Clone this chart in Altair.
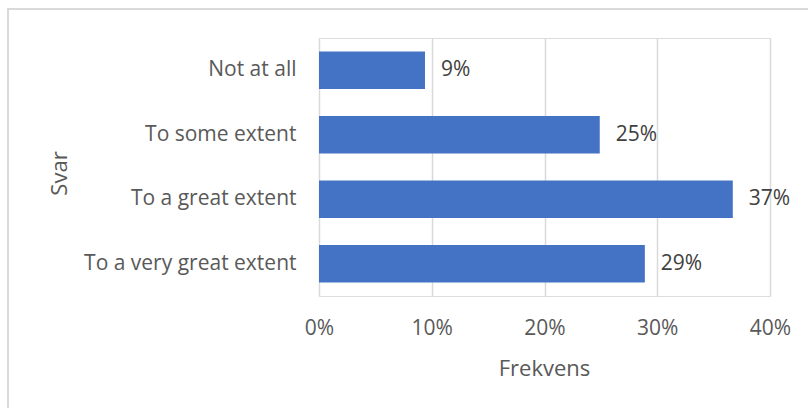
import altair as alt
import pandas as pd

categories = ["Not at all", "To some extent", "To a great extent", "To a very great extent"]
shares = [0.094, 0.249, 0.367, 0.289]
labels = ["9%", "25%", "37%", "29%"]

df = pd.DataFrame({"Svar": categories, "Frekvens": shares, "label": labels})

FONT = "Open Sans"
TXT = "#595959"
FS = 21

x_enc = alt.X(
    "Frekvens:Q",
    scale=alt.Scale(domain=[0, 0.4], nice=False, zero=True),
    axis=alt.Axis(
        title="Frekvens", format="%", values=[0, 0.1, 0.2, 0.3, 0.4],
        domain=False, ticks=False, grid=True, gridColor="#d9d9d9", gridWidth=1.5,
        labelFont=FONT, labelFontSize=FS, labelColor=TXT, labelPadding=32,
        labelBaseline="middle", labelFlush=False, labelOverlap=False,
        titleFont=FONT, titleFontSize=22, titleColor=TXT, titleFontWeight="normal",
        titleX=225, titleY=72, titleBaseline="middle", titleAlign="center",
    ),
)
y_enc = alt.Y(
    "Svar:N", sort=categories,
    scale=alt.Scale(paddingInner=0.42, paddingOuter=0.21),
    axis=alt.Axis(
        title="Svar", domain=False, ticks=False, grid=False,
        labelFont=FONT, labelFontSize=FS, labelColor=TXT, labelPadding=23,
        labelLimit=400,
        titleFont=FONT, titleFontSize=22, titleColor=TXT, titleFontWeight="normal",
        titleX=-260, titleY=135, titleAngle=-90, titleAlign="center",
        titleBaseline="middle",
    ),
)

border = alt.Chart(df).mark_rect(
    fill=None, stroke="#d9d9d9", strokeWidth=1.5, clip=False
).encode(
    x=alt.value(-311), x2=alt.value(500),
    y=alt.value(-29), y2=alt.value(380),
)

bars = alt.Chart(df).mark_bar(color="#4472C4").encode(x=x_enc, y=y_enc)

text = alt.Chart(df).mark_text(
    align="left", baseline="middle", dx=16, font=FONT, fontSize=FS, color="#404040"
).encode(
    x=alt.X("Frekvens:Q"), y=alt.Y("Svar:N", sort=categories), text="label:N"
)

chart = alt.layer(border, bars, text).properties(
    width=451, height=258,
    autosize=alt.AutoSizeParams(type="none"),
    padding={"left": 319, "top": 38, "right": 38, "bottom": 112},
).configure_view(stroke=None).configure(background="white")

chart.save("out.html", embed_options={"renderer": "svg", "actions": False})
